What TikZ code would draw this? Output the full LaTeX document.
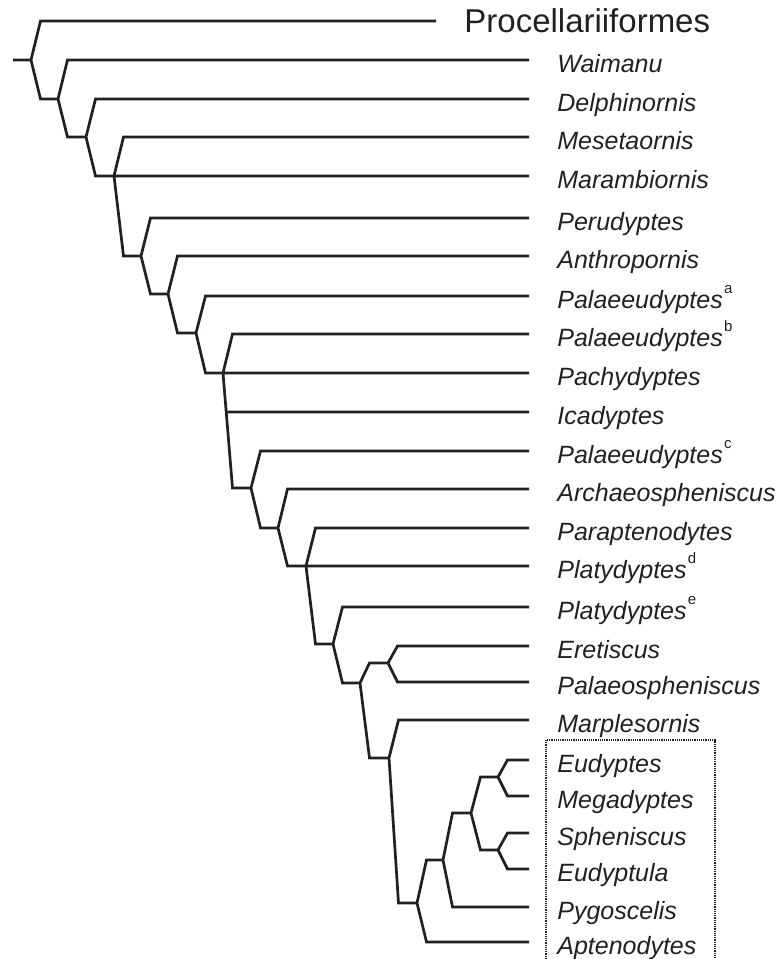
\documentclass[tikz,border=0pt]{standalone}
\usepackage{fontspec}
\setmainfont{Liberation Sans}
\usepackage{xcolor}
\definecolor{treeink}{HTML}{231F20}
\usetikzlibrary{calc}
\tikzset{
  taxon/.style={anchor=west,inner xsep=14pt,inner ysep=0pt,text height=12pt,text depth=0pt,text=treeink,font=\fontsize{12.5}{15}\selectfont\itshape},
  outgroup/.style={taxon,text height=11.8pt,font=\fontsize{16.5}{20}\selectfont},
  branch/.style={to path={-- ($(\tikztostart |- \tikztotarget)+(#1,0)$) -- (\tikztotarget)}},
  branch/.default=9.5,
  treeline/.style={line width=1.35pt,draw=treeink},
  crownbox/.style={draw=treeink,line width=0.6pt,dash pattern=on 0.6pt off 0.5pt}
}
\newcommand{\supmark}[1]{\/\hspace{0.6pt}\raisebox{7.5pt}{\upshape\fontsize{7.5}{8}\selectfont #1}}

\begin{document}
\begin{tikzpicture}[x=0.5pt,y=-0.5pt]
\useasboundingbox (0,0) rectangle (777,959);
% internal nodes
\coordinate (stub) at (13,60);
\coordinate (r0) at (31,60);
\coordinate (n1) at (58,99);
\coordinate (n2) at (86,137);
\coordinate (n3) at (114,176);
\coordinate (n4) at (141,256);
\coordinate (n5) at (168,294);
\coordinate (n6) at (196,333);
\coordinate (n7) at (223,373);
\coordinate (n8) at (251,488);
\coordinate (n9) at (278,528);
\coordinate (n10) at (306,566);
\coordinate (n11) at (333,644);
\coordinate (n12) at (360,683);
\coordinate (n13) at (388,663);
\coordinate (n14) at (389,758);
\coordinate (n15) at (417,903);
\coordinate (n16) at (443,860);
\coordinate (n17) at (471,813);
\coordinate (n18) at (498,777);
\coordinate (n19) at (498,850);
% taxa
\node[outgroup] (procell) at (436,21) {Procellariiformes};
\node[taxon] (waimanu) at (529,60) {Waimanu};
\node[taxon] (delphin) at (529,99) {Delphinornis};
\node[taxon] (meseta) at (529,137) {Mesetaornis};
\node[taxon] (marambi) at (529,176) {Marambiornis};
\node[taxon] (perud) at (529,218) {Perudyptes};
\node[taxon] (anthrop) at (529,256) {Anthropornis};
\node[taxon] (palA) at (529,296) {Palaeeudyptes\supmark{a}};
\node[taxon] (palB) at (529,334) {Palaeeudyptes\supmark{b}};
\node[taxon] (pachy) at (529,373) {Pachydyptes};
\node[taxon] (icady) at (529,412) {Icadyptes};
\node[taxon] (palC) at (529,451) {Palaeeudyptes\supmark{c}};
\node[taxon] (archaeo) at (529,489) {Archaeospheniscus};
\node[taxon] (parapt) at (529,528) {Paraptenodytes};
\node[taxon] (platyD) at (529,566) {Platydyptes\supmark{d}};
\node[taxon] (platyE) at (529,607) {Platydyptes\supmark{e}};
\node[taxon] (eretis) at (529,646) {Eretiscus};
\node[taxon] (palaeosph) at (529,682) {Palaeospheniscus};
\node[taxon] (marples) at (529,720) {Marplesornis};
\node[taxon] (eudyptes) at (529,760) {Eudyptes};
\node[taxon] (megady) at (529,796) {Megadyptes};
\node[taxon] (sphen) at (529,833) {Spheniscus};
\node[taxon] (eudyptula) at (529,869) {Eudyptula};
\node[taxon] (pygos) at (529,907) {Pygoscelis};
\node[taxon] (apteno) at (529,942) {Aptenodytes};
% branches, one path per internal node
\draw[treeline] (stub) -- (r0) to[branch] (procell) (r0) to[branch] (n1);
\draw[treeline] (n1) to[branch] (waimanu) (n1) to[branch] (n2);
\draw[treeline] (n2) to[branch] (delphin) (n2) to[branch] (n3);
\draw[treeline] (n3) to[branch] (meseta) (n3) -- (marambi) (n3) to[branch] (n4);
\draw[treeline] (n4) to[branch] (perud) (n4) to[branch] (n5);
\draw[treeline] (n5) to[branch] (anthrop) (n5) to[branch] (n6);
\draw[treeline] (n6) to[branch] (palA) (n6) to[branch] (n7);
\draw[treeline] (n7) to[branch] (palB) (n7) -- (pachy) (n7) to[branch=3.2] (icady) (n7) to[branch] (n8);
\draw[treeline] (n8) to[branch] (palC) (n8) to[branch] (n9);
\draw[treeline] (n9) to[branch] (archaeo) (n9) to[branch] (n10);
\draw[treeline] (n10) to[branch] (parapt) (n10) -- (platyD) (n10) to[branch] (n11);
\draw[treeline] (n11) to[branch] (platyE) (n11) to[branch] (n12);
\draw[treeline] (n12) to[branch] (n13) (n12) to[branch] (n14);
\draw[treeline] (n13) to[branch] (eretis) (n13) to[branch] (palaeosph);
\draw[treeline] (n14) to[branch] (marples) (n14) to[branch] (n15);
\draw[treeline] (n15) to[branch] (n16) (n15) to[branch] (apteno);
\draw[treeline] (n16) to[branch] (n17) (n16) to[branch] (pygos);
\draw[treeline] (n17) to[branch] (n18) (n17) to[branch] (n19);
\draw[treeline] (n18) to[branch] (eudyptes) (n18) to[branch] (megady);
\draw[treeline] (n19) to[branch] (sphen) (n19) to[branch] (eudyptula);
% crown group
\draw[crownbox] (546,959) |- (715,740) -- (715,959);
\end{tikzpicture}
\end{document}
